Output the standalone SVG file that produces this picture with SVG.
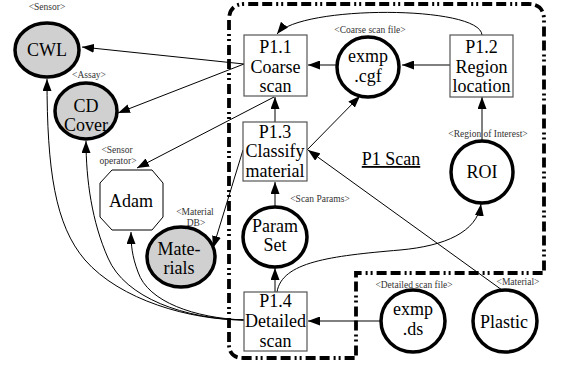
<svg xmlns="http://www.w3.org/2000/svg" width="563" height="367" viewBox="0 0 563 367">
<style>
text{font-family:'Liberation Serif','DejaVu Serif',serif}
.t{font-size:18px;fill:#000;text-anchor:middle}
.l{font-size:9.5px;fill:#333;text-anchor:middle}
.store{fill:#fff;stroke:#000;stroke-width:3.5}
.ext{fill:#d0d0d0;stroke:#000;stroke-width:3.5}
.proc{fill:#fff;stroke:#555;stroke-width:1.2}
.c{fill:none;stroke:#000;stroke-width:1;marker-end:url(#ah)}
</style>
<defs>
<marker id="ah" markerWidth="12" markerHeight="9" refX="12" refY="4.5" orient="auto" markerUnits="userSpaceOnUse"><path d="M0,0 L12,4.5 L0,9 z" fill="#000"/></marker>
</defs>
<g id="boundary">
<path d="M229,342 L229,20 Q229,4 245,4 L528,4 Q544,4 544,20 L544,273 L356,273 L356,358 L243,358 Q229,358 229,344" fill="none" stroke="#000" stroke-width="3.8" stroke-dasharray="10,4,10,4,2,3,2,4"/>
<text class="t" x="391" y="165" text-decoration="underline" font-size="17">P1 Scan</text>
</g>
<g id="connectors">
<path class="c" d="M244,64 L82,47"/>
<path class="c" d="M244,64 L118,113"/>
<path class="c" d="M336,65 L308,65"/>
<path class="c" d="M450,65 L402,65"/>
<path class="c" d="M482,35 C480,5 300,5 277,34"/>
<path class="c" d="M275,122 L275,97"/>
<path class="c" d="M307,150 L360,96"/>
<path class="c" d="M502,290 L308,150"/>
<path class="c" d="M274,97 L137,168"/>
<path class="c" d="M243,150 L213,248"/>
<path class="c" d="M482,140 L482,97"/>
<path class="c" d="M275,207 L275,182"/>
<path class="c" d="M275,292 L275,268"/>
<path class="c" d="M277,292 C282,262 330,256 400,250 C445,246 477,232 481,204"/>
<path class="c" d="M381,321 L308,321"/>
<path class="c" d="M244,320 C190,320 120,300 85,260 C55,225 47,170 47,79"/>
<path class="c" d="M244,320 C185,319 125,298 108,258 C92,222 86,180 86,141"/>
<path class="c" d="M244,320 C195,318 148,302 138,272 C132,256 131,245 131,232"/>
</g>
<g id="CWL">
<ellipse class="ext" cx="47" cy="50" rx="32" ry="27"/>
<text class="t" x="47" y="56">CWL</text>
<text class="l" x="47" y="10">&lt;Sensor&gt;</text>
</g>
<g id="CDCover">
<ellipse class="ext" cx="86" cy="111" rx="31" ry="28"/>
<text class="t" x="86" y="112">CD</text>
<text class="t" x="86" y="131">Cover</text>
<text class="l" x="89" y="78">&lt;Assay&gt;</text>
</g>
<g id="Adam">
<polygon points="112,170 152,170 163,183 163,217 152,230 112,230 100,217 100,183" fill="#fff" stroke="#000" stroke-width="1"/>
<text class="t" x="131" y="207">Adam</text>
<text class="l" x="117" y="153">&lt;Sensor</text>
<text class="l" x="118" y="164">operator&gt;</text>
</g>
<g id="Materials">
<ellipse class="ext" cx="181" cy="257" rx="34" ry="30"/>
<text class="t" x="179" y="255">Mate-</text>
<text class="t" x="179" y="274">rials</text>
<text class="l" x="195" y="215">&lt;Material</text>
<text class="l" x="196" y="226">DB&gt;</text>
</g>
<g id="P1.1">
<rect class="proc" x="244" y="35" width="63" height="61"/>
<text class="t" x="275.5" y="53">P1.1</text>
<text class="t" x="275.5" y="73">Coarse</text>
<text class="t" x="275.5" y="92">scan</text>
</g>
<g id="exmp.cgf">
<ellipse class="store" cx="368" cy="67" rx="31" ry="30"/>
<text class="t" x="368" y="62" font-size="17">exmp</text>
<text class="t" x="368" y="82" font-size="17">.cgf</text>
<text class="l" x="370" y="33">&lt;Coarse scan file&gt;</text>
</g>
<g id="P1.2">
<rect class="proc" x="450" y="35" width="63" height="62"/>
<text class="t" x="481.5" y="53">P1.2</text>
<text class="t" x="481.5" y="73">Region</text>
<text class="t" x="481.5" y="92">location</text>
</g>
<g id="P1.3">
<rect class="proc" x="243" y="122" width="64" height="59"/>
<text class="t" x="275" y="138">P1.3</text>
<text class="t" x="275" y="157">Classify</text>
<text class="t" x="275" y="177">material</text>
</g>
<g id="ROI">
<ellipse class="store" cx="482" cy="172" rx="31" ry="31"/>
<text class="t" x="482" y="178">ROI</text>
<text class="l" x="488" y="137">&lt;Region of Interest&gt;</text>
</g>
<g id="ParamSet">
<ellipse class="store" cx="275" cy="237" rx="32" ry="30"/>
<text class="t" x="275" y="232">Param</text>
<text class="t" x="275" y="251">Set</text>
<text class="l" x="320" y="202">&lt;Scan Params&gt;</text>
</g>
<g id="P1.4">
<rect class="proc" x="244" y="292" width="63" height="59"/>
<text class="t" x="275.5" y="307">P1.4</text>
<text class="t" x="275.5" y="327">Detailed</text>
<text class="t" x="275.5" y="347">scan</text>
</g>
<g id="exmp.ds">
<ellipse class="store" cx="413" cy="321" rx="32" ry="31"/>
<text class="t" x="413" y="315">exmp</text>
<text class="t" x="413" y="335">.ds</text>
<text class="l" x="414" y="288">&lt;Detailed scan file&gt;</text>
</g>
<g id="Plastic">
<ellipse class="store" cx="505" cy="321" rx="32" ry="31"/>
<text class="t" x="504" y="328">Plastic</text>
<text class="l" x="518" y="285">&lt;Material&gt;</text>
</g>
</svg>
